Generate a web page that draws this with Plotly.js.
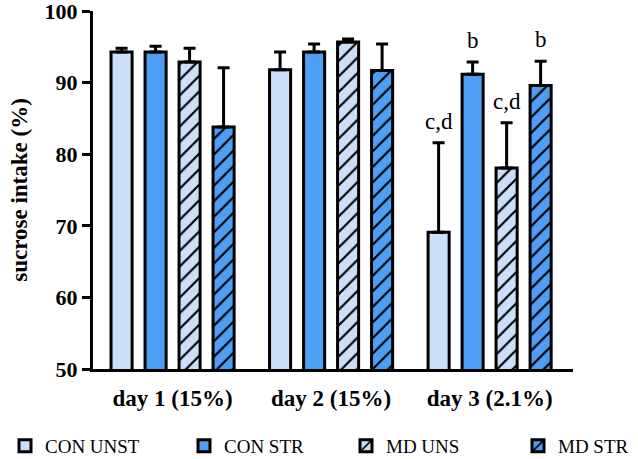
<!DOCTYPE html>
<html>
<head>
<meta charset="utf-8">
<script src="https://cdn.plot.ly/plotly-3.0.1.min.js"></script>
<style>html,body{margin:0;padding:0;background:#fff;}#chart{width:638px;height:459px;}</style>
</head>
<body>
<div id="chart"></div>
<script>
// ---- data ----
const days = ["day 1 (15%)", "day 2 (15%)", "day 3 (2.1%)"];
const groupNames = ["CON UNST", "CON STR", "MD UNS", "MD STR"];
const conUnst = [94.3, 91.8, 69.1];
const conStr  = [94.3, 94.3, 91.2];
const mdUns   = [92.9, 95.7, 78.1];
const mdStr   = [83.8, 91.7, 89.6];
const conUnstErr = [0.5, 2.5, 12.5];
const conStrErr  = [0.8, 1.1, 1.7];
const mdUnsErr   = [1.9, 0.4, 6.3];
const mdStrErr   = [8.3, 3.7, 3.4];
const yTicks = [50, 60, 70, 80, 90, 100];
// significance letters: [group index, day index, label]
const sigLabels = [[0, 2, "c,d"], [1, 2, "b"], [2, 2, "c,d"], [3, 2, "b"]];

// ---- styling ----
const LIGHT = "#cbe0f8";
const MID = "#4f9ef5";
const FONT = "Liberation Serif, Times New Roman, serif";
const BARGAP = 0.142, BARGROUPGAP = 0.38;

const values = [conUnst, conStr, mdUns, mdStr];
const errs = [conUnstErr, conStrErr, mdUnsErr, mdStrErr];
const fills = [LIGHT, MID, LIGHT, MID];
const hatched = [false, false, true, true];
const legendIds = ["legend", "legend2", "legend3", "legend4"];

const traces = values.map((v, i) => {
  const marker = {color: fills[i], line: {color: "black", width: 3}};
  if (hatched[i]) {
    marker.pattern = {shape: "/", fgcolor: "black", bgcolor: fills[i], size: 11, solidity: 0.2, fillmode: "replace"};
  }
  return {
    type: "bar",
    name: groupNames[i],
    x: days,
    y: v,
    marker: marker,
    legend: legendIds[i],
    error_y: {type: "data", symmetric: false, array: errs[i], arrayminus: v.map(() => 0),
              color: "black", thickness: 3, width: 6}
  };
});

// annotation x positions from the bar grouping
const slot = (1 - BARGAP) / 4;
const annotations = sigLabels.map(([g, d, txt]) => ({
  x: d - (1 - BARGAP) / 2 + (g + 0.5) * slot,
  y: values[g][d] + errs[g][d],
  xref: "x", yref: "y",
  text: txt, showarrow: false,
  yanchor: "bottom", yshift: 7,
  font: {family: FONT, size: 23, color: "black"}
}));

const legendStarts = [5, 184, 346, 518];
const legendFont = {family: FONT, size: 19, color: "black"};
const layout = {
  width: 638, height: 459,
  margin: {l: 93, r: 65, t: 11, b: 90, autoexpand: false},
  paper_bgcolor: "white", plot_bgcolor: "white",
  barmode: "group", bargap: BARGAP, bargroupgap: BARGROUPGAP,
  font: {family: FONT, color: "black"},
  xaxis: {
    type: "category", range: [-0.502, 2.526],
    showline: true, linecolor: "black", linewidth: 3,
    ticks: "", showgrid: false, zeroline: false,
    tickfont: {family: FONT, size: 23, color: "black", weight: "bold"},
    ticklabelstandoff: 6
  },
  yaxis: {
    range: [50, 100.02], tickmode: "array", tickvals: yTicks, ticktext: yTicks.map(String),
    ticklabeloverflow: "allow",
    showline: true, linecolor: "black", linewidth: 3,
    ticks: "outside", ticklen: 8, tickwidth: 3, tickcolor: "black",
    showgrid: false, zeroline: false, automargin: false,
    tickfont: {family: FONT, size: 22, color: "black", weight: "bold"},
    title: {text: "sucrose intake (%)", font: {family: FONT, size: 23, color: "black", weight: "bold"}, standoff: 11}
  },
  annotations: annotations,
  showlegend: true
};
legendIds.forEach((id, i) => {
  layout[id] = {
    xref: "container", yref: "container",
    x: legendStarts[i] / 638, y: 1 - 446 / 459,
    xanchor: "left", yanchor: "middle",
    orientation: "h", bgcolor: "rgba(0,0,0,0)",
    font: legendFont
  };
});

Plotly.newPlot("chart", traces, layout, {displayModeBar: false, staticPlot: true});
</script>
</body>
</html>
